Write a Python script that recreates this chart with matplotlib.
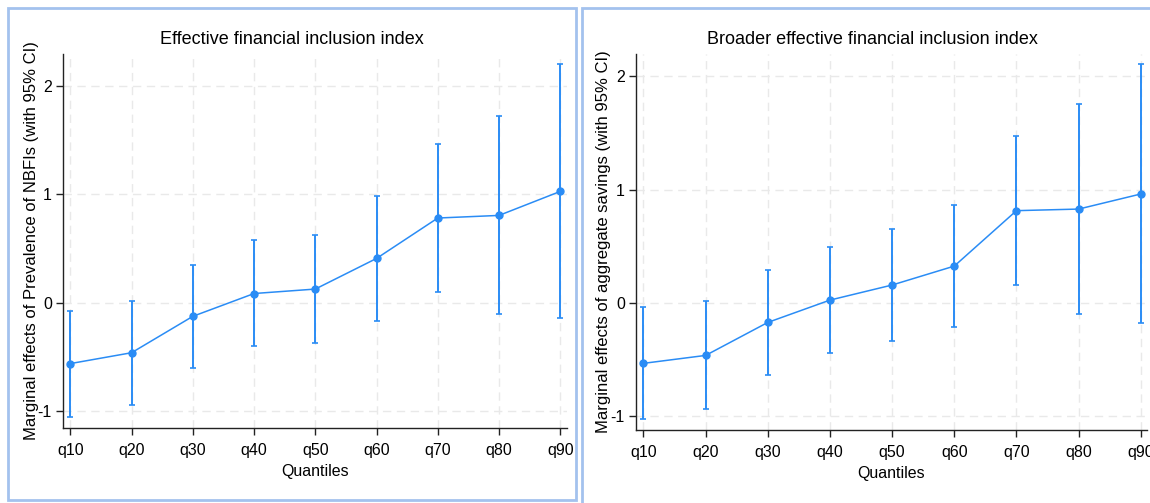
import matplotlib
matplotlib.use("Agg")
import matplotlib.pyplot as plt
from matplotlib.patches import Rectangle

quantiles = ["q10", "q20", "q30", "q40", "q50", "q60", "q70", "q80", "q90"]

# Effective financial inclusion index
est1 = [-0.56, -0.46, -0.125, 0.085, 0.126, 0.408, 0.78, 0.804, 1.025]
lo1 = [-1.05, -0.94, -0.598, -0.40, -0.371, -0.169, 0.101, -0.104, -0.141]
hi1 = [-0.074, 0.018, 0.347, 0.577, 0.623, 0.982, 1.46, 1.715, 2.196]

# Broader effective financial inclusion index
est2 = [-0.532, -0.462, -0.171, 0.026, 0.159, 0.326, 0.815, 0.829, 0.962]
lo2 = [-1.026, -0.932, -0.632, -0.444, -0.332, -0.209, 0.156, -0.094, -0.176]
hi2 = [-0.035, 0.015, 0.291, 0.494, 0.650, 0.865, 1.474, 1.753, 2.106]

blue = '#2a8cf5'
sans = ['Liberation Sans', 'DejaVu Sans']

fig = plt.figure(figsize=(11.5, 5.03), dpi=100)

# panel frames
fig.add_artist(Rectangle((8/1150, 1-500/503), 568/1150, 492/503, transform=fig.transFigure,
                         fill=False, edgecolor='#a3c2ee', linewidth=2))
fig.add_artist(Rectangle((582/1150, -0.1), 600/1150, 1-8/503+0.1, transform=fig.transFigure,
                         fill=False, edgecolor='#a3c2ee', linewidth=2))


def panel(rect, est, lo, hi, ylim, xlim, title, title_x, ylabel, ylabx):
    ax = fig.add_axes(rect)
    x = list(range(len(quantiles)))
    yerr = [[e - l for e, l in zip(est, lo)], [h - e for e, h in zip(est, hi)]]
    ax.errorbar(x, est, yerr=yerr, color=blue, marker='o', markersize=5,
                linewidth=1.1, elinewidth=1.4, capsize=2, capthick=1.2, zorder=3)
    ax.set_xlim(*xlim)
    ax.set_ylim(*ylim)
    ax.set_xticks(x)
    ax.set_xticklabels(quantiles, family=sans, fontsize=11.5)
    ax.set_yticks([-1, 0, 1, 2])
    ax.set_yticklabels(['-1', '0', '1', '2'], family=sans, fontsize=11.5)
    ax.grid(True, color='#e9e9e9', linestyle=(0, (6, 4)), linewidth=1)
    ax.set_axisbelow(True)
    for s in ['top', 'right']:
        ax.spines[s].set_visible(False)
    for s in ['left', 'bottom']:
        ax.spines[s].set_color('#222222')
        ax.spines[s].set_linewidth(1)
    ax.tick_params(length=5, width=1, color='#222222', pad=3)
    ax.tick_params(axis='x', pad=6)
    ax.set_xlabel('Quantiles', family=sans, fontsize=11.5, labelpad=4)
    ax.set_ylabel(ylabel, fontsize=12, family=sans)
    ax.yaxis.set_label_coords(ylabx, 0.5)
    fig.text(title_x, 1 - 39/503, title, ha='center', va='center', family=sans, fontsize=13)
    return ax


panel([63/1150, 1-428/503, 504/1150, 374/503], est1, lo1, hi1, (-1.153, 2.29), (-0.12, 8.11),
      'Effective financial inclusion index', 292/1150,
      'Marginal effects of Prevalence of NBFIs (with 95% CI)', -0.048)
panel([636/1150, 1-430/503, 511/1150, 376/503], est2, lo2, hi2, (-1.12, 2.197), (-0.12, 8.1),
      'Broader effective financial inclusion index', 872/1150,
      'Marginal effects of aggregate savings (with 95% CI)', -0.049)

fig.savefig('out.png', dpi=100)
